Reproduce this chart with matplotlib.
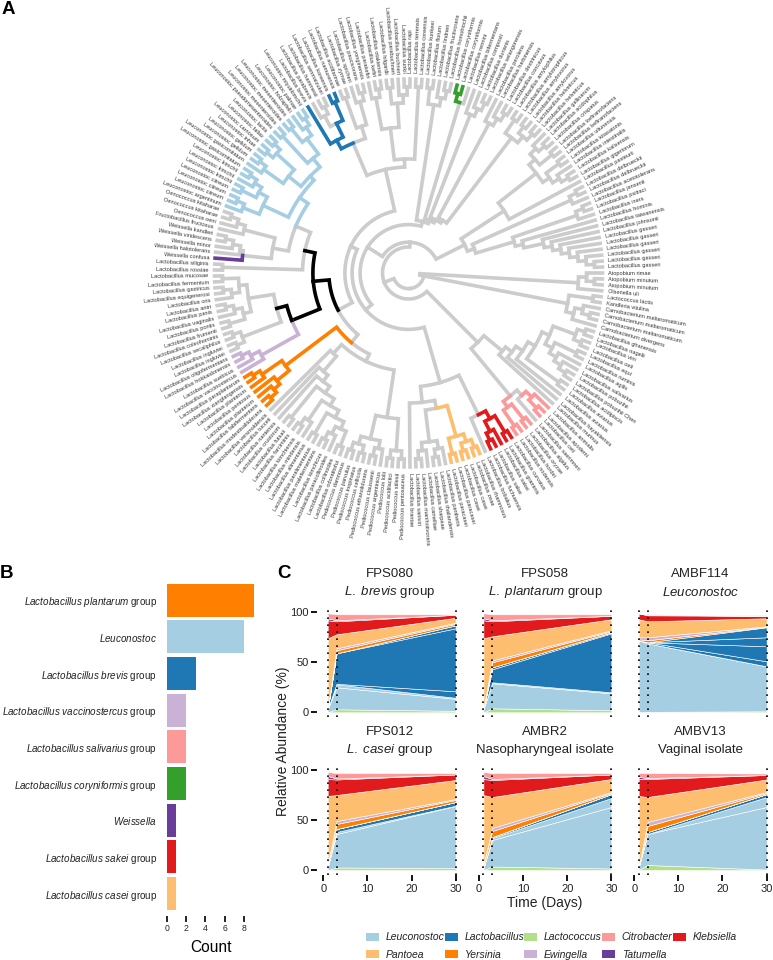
"""Lactobacillaceae cladogram with genome counts and community time courses."""
import re

import numpy as np
import matplotlib

matplotlib.use("Agg")
import matplotlib.pyplot as plt
from matplotlib.patches import Patch

plt.rcParams["font.family"] = ["Liberation Sans", "DejaVu Sans"]
plt.rcParams["mathtext.fontset"] = "custom"
plt.rcParams["mathtext.rm"] = "Liberation Sans"
plt.rcParams["mathtext.it"] = "Liberation Sans:italic"

W, H = 773, 960

PALETTE = {
    "grey": "#CCCCCC", "black": "#000000", "lblue": "#A6CEE3", "blue": "#1F78B4",
    "lgreen": "#B2DF8A", "green": "#33A02C", "pink": "#FB9A99", "red": "#E31A1C",
    "lorange": "#FDBF6F", "orange": "#FF7F00", "lilac": "#CAB2D6", "purple": "#6A3D9A",
}

# ---- panel A: tips clockwise from 3 o'clock ("L." = Lactobacillus)
TIP_LABELS = [
    "Atopobium rimae", "Atopobium minutum", "Atopobium minutum", "Olsenella uli",
    "Lactococcus lactis", "Kandleria vitulina", "Carnobacterium maltaromaticum",
    "Carnobacterium maltaromaticum", "Carnobacterium maltaromaticum", "Carnobacterium divergens",
    "L. ghanensis", "L. nagelii", "L. vini", "L. oeti", "L. equi", "L. ruminis", "L. agilis",
    "L. salivarius", "L. pobuzihii", "L. pobuzihii Chen", "L. acidipiscis", "L. aviarius",
    "L. aviarius", "L. hayakitensis", "L. murinus",
    "L. animalis", "L. apodemi", "L. ceti", "L. saerimneri", "L. algidus", "L. oryzae",
    "L. hordei", "L. nodensis",
    "L. curvatus", "L. graminis", "L. sakei", "L. sakei", "L. fuchuensis", "L. bobalius",
    "L. rhamnosus", "L. zeae", "L. casei", "L. casei", "L. paracasei", "L. paracasei",
    "L. pantheris", "L. thailandensis", "L. sharpeae", "L. camelliae", "L. manihotivorans",
    "L. saniviri", "L. brantae",
    "Pediococcus pentosaceus", "Pediococcus stilesii", "Pediococcus acidilactici", "Pediococcus lolii",
    "Pediococcus argentinicus", "Pediococcus claussenii", "Pediococcus ethanolidurans",
    "Pediococcus cellicola", "Pediococcus inopinatus", "Pediococcus parvulus", "Pediococcus damnosus",
    "L. odoratitofui", "L. collinoides", "L. paracollinoides", "L. kimchicus", "L. malefermentans",
    "L. paralimentarius", "L. alimentarius", "L. mindensis", "L. kimchiensis", "L. farciminis",
    "L. futsaii", "L. crustorum", "L. nantensis", "L. tucceti", "L. versmoldensis",
    "L. modestisalitolerans", "L. fabifermentans", "L. plantarum", "L. pentosus", "L. plantarum",
    "L. xiangfangensis", "L. paraplantarum",
    "L. vaccinostercus", "L. suebicus", "L. hokkaidonensis", "L. oligofermentans",
    "L. ingluviei", "L. ingluviei", "L. secaliphilus", "L. coleohominis", "L. frumenti", "L. pontis",
    "L. vaginalis", "L. panis", "L. antri", "L. oris", "L. equigenerosi", "L. gastricus",
    "L. fermentum", "L. mucosae",
    "L. rossiae", "L. siliginis",
    "Weissella confusa", "Weissella halotolerans", "Weissella minor", "Weissella viridescens",
    "Weissella kandleri", "Fructobacillus fructosus", "Oenococcus oeni", "Oenococcus kitaharae",
    "Oenococcus kitaharae",
    "Leuconostoc argentinum", "Leuconostoc citreum", "Leuconostoc citreum", "Leuconostoc citreum",
    "Leuconostoc kimchii", "Leuconostoc kimchii", "Leuconostoc kimchii", "Leuconostoc gasicomitatum",
    "Leuconostoc gasicomitatum", "Leuconostoc gelidum", "Leuconostoc gelidum", "Leuconostoc inhae",
    "Leuconostoc carnosum", "Leuconostoc fallax", "Leuconostoc lactis", "Leuconostoc pseudomesenteroides",
    "Leuconostoc mesenteroides", "Leuconostoc mesenteroides", "Leuconostoc mesenteroides",
    "Leuconostoc holzapfelii", "Leuconostoc palmae", "Leuconostoc miyukkimchii",
    "L. brevis", "L. parabrevis", "L. hammesii", "L. senmaizukei", "L. koreensis", "L. namurensis",
    "L. acidifarinae", "L. zymae", "L. spicheri", "L. paucivorans", "L. yonginensis",
    "L. parakefiri", "L. kefiri", "L. otakiensis", "L. hilgardii", "L. parabuchneri", "L. buchneri",
    "L. sunkii", "L. rapi", "L. terrensis", "L. coreensis",
    "L. kunkeei", "L. florum", "L. lindneri", "L. fructivorans", "L. homohiochii",
    "L. coryniformis", "L. coryniformis", "L. rennini",
    "L. bifermentans", "L. composti", "L. durianis", "L. selangorensis",
    "L. perolens", "L. harbinensis", "L. dextrinicus", "L. concavus",
    "L. amylophilus", "L. amylotrophicus", "L. amylovorus", "L. amylovorus", "L. helveticus", "L. helveticus",
    "L. gallinarum", "L. acidophilus", "L. crispatus", "L. kefiranofaciens", "L. kefiranofaciens",
    "L. ultunensis", "L. kitasatonis", "L. intestinalis", "L. kalixensis", "L. gigeriorum", "L. pasteurii",
    "L. delbrueckii", "L. delbrueckii", "L. acetotolerans", "L. jensenii", "L. psittaci", "L. iners",
    "L. hominis", "L. taiwanensis", "L. johnsonii", "L. gasseri", "L. gasseri", "L. gasseri",
    "L. gasseri", "L. gasseri", "L. gasseri",
]

# tree topology: * = tip, @h = node level above the tips, #c = clade colour, !c = own branch only
ATOPOBIUM = "((*,(*,*)),*)"
CARNO = "((*,*),((*,(*,*)),*))"
SAL_INNER = "(((*,*),(*,*)),((*,*),(*,(*,(*,*)))))"
SAL_RIGHT = f"((((({SAL_INNER}),(*,*))@6,*),*),*)@9"
SAL_LEFT = "(((*,(*,*))@2.4#pink,*),((*,*),(*,*))@3.4#pink)@4.3"
SALIVARIUS = f"({SAL_RIGHT},{SAL_LEFT})@12"
SAKEI = "(((*,*),(*,(*,*)))@3.4#red,*)@4.5"
CASEI = "(((*,*),(*,*)),(*,*))@3#lorange"
PANTHERIS = "((*,(*,*)),(*,(*,*)))"
CASEI_SAKEI = f"({SAKEI},(({CASEI},{PANTHERIS})@7,*)@8)@10"
PEDIO = "(((*,*),(*,*)),((*,(*,*)),((*,*),(*,*))))@6"
LADDER = "((((((((*,*),(*,(*,*))),(*,*)),(*,(*,*))),(*,*)),*),*),*)@10.5"
PLANTARUM = "((((*,*),*),*),(*,(*,*)))@5#orange"
VACCINO = "(*,(*,(*,*)))@3.2#lilac"
REUTERI = "(((*,*),(*,*)),(((*,*),(*,(*,*))),((*,(*,*)),(*,*))))@7.2!black"
ROSSIAE = "(*,*)"
WEISSELLA = "(*#purple,(*,(*,(*,*))))@3.4"
OENO = "(*,(*,(*,*)))"
LEUCO_L = "((*,(*,*)),((*,*),(*,(*,*)))@3)@4.2"
LEUCO_R = "(((*,(*,*)),((*,*),(*,*)))@5,((*,*),((*,*),(*,(*,*)))@3.2)@5.6)@7"
LEUCO = f"({LEUCO_L},{LEUCO_R})@7.7#lblue"
WEI_LEU = f"(({WEISSELLA},{OENO})@7,{LEUCO})@9"
BLACK_CLADE = f"(({VACCINO},{REUTERI})@8.5!black,({ROSSIAE},{WEI_LEU})@11!black)@12.3!black"
LOWER = f"((({PEDIO},{LADDER})@12,{PLANTARUM})@13,{BLACK_CLADE})@14.3"
BREV_L = "(*,((*,(*,*))#grey,(*,*))@3.5)@5.4#blue"
BREV_R = "((*,*),(*,(*,*)))@5"
BUCH = "(((*,(*,*)),((*,*),(*,(*,*))))@6,(*,*))@10"
UPPER = f"(({BREV_L},{BREV_R})@6.6,{BUCH})@11"
FAN0 = "((*,*),(*,(*,*)))"
FAN1 = "((*,*)#green,*)"
FAN2 = "(*,(*,(*,*)))"
FAN3 = "(*,(*,(*,*)))"
FAN4 = "((*,*),((*,*),(*,*)))"
FAN = f"({FAN0},({FAN1},({FAN2},({FAN3},{FAN4})@16.4)@16.8)@17.2)@17.6"
ACID = "((((*,(*,*)),(*,*)),((*,*),(*,(*,*)))),*)@10"
GASSERI = "(*,(*,(*,(*,(*,(*,(*,(*,*))))))))@9.5"
DELB = f"(((*,*),*),(((*,*),*),{GASSERI})@10.5)@15.5"
TREE = (
    f"(({ATOPOBIUM},{CARNO})@22.8,"
    f"({SALIVARIUS},((({CASEI_SAKEI},({LOWER},{UPPER})@16.3)@17.2,{FAN})@18.2,"
    f"({ACID},{DELB})@16.4)@20.4)@21)@22.3"
)

# ---- panel B
GROUP_SPECIES = ["Lactobacillus plantarum", "Leuconostoc", "Lactobacillus brevis",
                 "Lactobacillus vaccinostercus", "Lactobacillus salivarius",
                 "Lactobacillus coryniformis", "Weissella", "Lactobacillus sakei", "Lactobacillus casei"]
GROUP_SUFFIX = [" group", "", " group", " group", " group", " group", "", " group", " group"]
GROUP_COUNTS = [9, 8, 3, 2, 2, 2, 1, 1, 1]
GROUP_COLOURS = ["orange", "lblue", "blue", "lilac", "pink", "green", "purple", "red", "lorange"]

# ---- panel C: band thickness (%) at each sampled day, bottom to top
DAYS = [1, 3, 30]
BAND_COLOURS = ["lgreen", "lblue", "lblue", "blue", "blue", "blue", "blue",
                "orange", "lilac", "lorange", "red", "purple", "pink"]
FPS080 = [[0, 3, 1.5], [3, 22, 12], [0, 3, 1], [0, 0.5, 6.5], [0, 30.5, 63], [0, 0, 3], [0, 0, 0],
          [0, 3, 1.5], [0, 2, 1], [71, 14, 5], [18, 13, 3], [2, 1, 0], [5, 6, 0.5]]
FPS058 = [[0, 4, 2], [3, 25, 17], [0, 1, 1], [0, 13, 59], [0, 2, 1], [0, 0, 0], [0, 0, 0],
          [0, 5, 1], [0, 2, 1], [71, 24, 11], [18, 15, 3.5], [2, 1, 0], [5, 6, 1.5]]
AMBF114 = [[0, 0.5, 1], [72, 68.5, 45], [0, 0, 0], [0, 1, 5], [0, 0, 15], [0, 0, 9], [0, 0, 10],
           [1, 2, 0.4], [2, 3, 0.6], [18, 16, 8], [6, 6, 2.5], [0, 0.5, 0], [0, 0.5, 0.5]]
FPS012 = [[0, 2.5, 2], [3, 33.5, 62], [0, 2, 0.3], [0, 3, 3.7], [0, 0, 0], [0, 0, 0], [0, 0, 0],
          [2, 5, 2], [0, 3, 1], [69, 26, 19], [17, 15.5, 5.5], [3, 1, 0], [4, 5.5, 1.5]]
AMBR2 = [[0, 3.5, 1.5], [2, 26.5, 61.5], [0, 2, 9], [0, 1, 4], [0, 0, 0], [0, 0, 0], [0, 0, 0],
         [3, 6, 1], [0, 3, 1], [70, 31, 13], [16, 17, 4.5], [3, 1, 0], [4, 6, 1.5]]
AMBV13 = [[0, 5, 0.5], [3, 31, 62.5], [0, 0, 10], [0, 2, 3], [0, 0, 0], [0, 0, 0], [0, 0, 0],
          [0, 6, 1], [0, 4, 1], [71, 25, 12.5], [17, 18, 4.5], [2, 1, 0], [4, 5, 1.5]]
PANELS = [FPS080, FPS058, AMBF114, FPS012, AMBR2, AMBV13]
PANEL_NAMES = ["FPS080", "FPS058", "AMBF114", "FPS012", "AMBR2", "AMBV13"]
PANEL_SUBTITLES = [r"$\mathit{L.\ brevis}$ group", r"$\mathit{L.\ plantarum}$ group",
                   r"$\mathit{Leuconostoc}$", r"$\mathit{L.\ casei}$ group",
                   "Nasopharyngeal isolate", "Vaginal isolate"]
LEGEND_GENERA = ["Leuconostoc", "Pantoea", "Lactobacillus", "Yersinia", "Lactococcus",
                 "Ewingella", "Citrobacter", "Tatumella", "Klebsiella"]
LEGEND_COLOURS = ["lblue", "lorange", "blue", "orange", "lgreen", "lilac", "pink", "purple", "red"]


def parse_tree(text):
    """Read the compact tree string into nested dicts, numbering tips in order."""
    pos = 0
    tips = 0

    def node():
        nonlocal pos, tips
        item = {"children": [], "level": None, "colour": None, "own": None}
        if text[pos] == "*":
            pos += 1
            item["angle"] = tips
            tips += 1
            item["level"] = 0.0
        else:
            pos += 1
            while True:
                item["children"].append(node())
                pos += 1
                if text[pos - 1] == ")":
                    break
            item["angle"] = (item["children"][0]["angle"] + item["children"][-1]["angle"]) / 2
        while pos < len(text) and text[pos] in "@#!":
            match = re.match(r"[\w.]+", text[pos + 1:])
            value = match.group(0)
            if text[pos] == "@":
                item["level"] = float(value)
            elif text[pos] == "#":
                item["colour"] = value
            else:
                item["own"] = value
            pos += 1 + len(value)
        if item["level"] is None:
            item["level"] = 1 + max(c["level"] for c in item["children"])
        return item

    root = node()
    return root, tips


def draw_edges(ax, item, colour, step_deg):
    """One branch per child: arc at the parent's radius, then radial out to the child."""
    r_parent = TIP_R - LEVEL_STEP * item["level"]
    th_parent = np.deg2rad(item["angle"] * step_deg)
    for child in item["children"]:
        inherited = child["colour"] or colour
        own = child["own"] or inherited
        r_child = TIP_R - LEVEL_STEP * child["level"]
        th_child = np.deg2rad(child["angle"] * step_deg)
        thetas = np.linspace(th_parent, th_child, 24)
        ax.plot(np.r_[thetas, th_child], np.r_[np.full(24, r_parent), r_child],
                color=PALETTE[own], lw=2.6, solid_capstyle="projecting", solid_joinstyle="miter",
                zorder=3 if own != "grey" else 2)
        draw_edges(ax, child, inherited, step_deg)


def axes_px(fig, x0, y0, x1, y1, **kw):
    return fig.add_axes([x0 / W, 1 - y1 / H, (x1 - x0) / W, (y1 - y0) / H], **kw)


TIP_R = 194.0
LEVEL_STEP = 8.0
CENTRE = (408.5, 273.0)
R_MAX = 270

fig = plt.figure(figsize=(W / 100, H / 100), dpi=100, facecolor="white")

# panel A
ax = axes_px(fig, CENTRE[0] - R_MAX, CENTRE[1] - R_MAX, CENTRE[0] + R_MAX, CENTRE[1] + R_MAX,
             projection="polar")
ax.set_theta_zero_location("E")
ax.set_theta_direction(-1)
ax.set_rlim(0, R_MAX)
ax.set_axis_off()
root, n_tips = parse_tree(TREE)
if n_tips != len(TIP_LABELS):
    raise ValueError(f"{n_tips} tips, {len(TIP_LABELS)} labels")
step = 360.0 / n_tips
draw_edges(ax, root, "grey", step)
for i, name in enumerate(TIP_LABELS):
    deg = i * step
    left_side = 90 < deg < 270
    ax.text(np.deg2rad(deg), 200, name.replace("L. ", "Lactobacillus "),
            rotation=(180 - deg) if left_side else -deg, rotation_mode="anchor",
            ha="right" if left_side else "left", va="center", fontsize=4.1, color="#333333")

# panel B
ax = axes_px(fig, 166.7, 578.3, 256, 915.5)
y = np.arange(len(GROUP_COUNTS))
ax.barh(y, GROUP_COUNTS, height=0.9, color=[PALETTE[c] for c in GROUP_COLOURS])
ax.set_ylim(len(y) - 0.4, -0.6)
ax.set_xlim(0, 89.3 / 9.7)
ax.set_xticks([0, 2, 4, 6, 8])
ax.set_yticks(y)
ax.set_yticklabels(["$\\mathit{" + s.replace(" ", "\\ ") + "}$" + g
                    for s, g in zip(GROUP_SPECIES, GROUP_SUFFIX)], fontsize=7.15, color="#222222")
ax.tick_params(axis="y", length=0, pad=7)
ax.tick_params(axis="x", length=4, width=1.2, labelsize=6.2, pad=2, labelcolor="#222222")
ax.set_xlabel("Count", fontsize=11.2, labelpad=5)
for side in ax.spines.values():
    side.set_visible(False)

# panel C
COL_X0 = [323.3, 479.0, 634.3]
ROW_Y0 = [712.3, 870.0]
PX_DAY = 4.41
for k, bands in enumerate(PANELS):
    row, col = divmod(k, 3)
    x0, y0 = COL_X0[col], ROW_Y0[row]
    ax = axes_px(fig, x0 - 6.3, y0 - 104.3, x0 + 30 * PX_DAY + 6.3, y0 + 4.7)
    ax.stackplot(DAYS, np.array(bands, dtype=float), colors=[PALETTE[c] for c in BAND_COLOURS],
                 edgecolor="white", linewidth=0.4)
    for day in DAYS:
        ax.axvline(day, color="black", lw=1.2, ls=(0, (1, 3.2)), zorder=5)
    ax.set_xlim(-6.3 / PX_DAY, 30 + 6.3 / PX_DAY)
    ax.set_ylim(-4.7, 104.3)
    ax.set_xticks([0, 10, 20, 30] if row == 1 else [])
    ax.set_yticks([0, 50, 100] if col == 0 else [])
    ax.tick_params(axis="x", length=4.5, width=1.3, labelsize=8, pad=2, labelcolor="#222222")
    ax.tick_params(axis="y", length=4, width=1.3, labelsize=8, pad=2, labelcolor="#222222")
    for side in ax.spines.values():
        side.set_visible(False)
    xc = x0 + 15 * PX_DAY
    fig.text(xc / W, 1 - (y0 - 138) / H, PANEL_NAMES[k], ha="center", va="center",
             fontsize=9.5, color="#222222")
    fig.text(xc / W, 1 - (y0 - 120) / H, PANEL_SUBTITLES[k], ha="center", va="center",
             fontsize=9.5, color="#222222")

fig.text(283 / W, 1 - 741 / H, "Relative Abundance (%)", rotation=90, ha="center", va="center",
         fontsize=10, color="#222222")
fig.text(545 / W, 1 - 903 / H, "Time (Days)", ha="center", va="center", fontsize=10, color="#222222")

handles = [Patch(facecolor=PALETTE[c], edgecolor="none") for c in LEGEND_COLOURS]
fig.legend(handles, LEGEND_GENERA, ncol=5, frameon=False, loc="lower left",
           bbox_to_anchor=(366 / W, 0.5 / H), borderaxespad=0, borderpad=0,
           prop={"style": "italic", "size": 7.5}, handlelength=1.25, handleheight=0.85,
           handletextpad=0.65, labelspacing=0.68, columnspacing=0.0, labelcolor="#222222")

for letter, px, py in [("A", 8, 10), ("B", 7, 574), ("C", 284, 574)]:
    fig.text(px / W, 1 - py / H, letter, fontsize=13.5, fontweight="bold", ha="center", va="center")

fig.savefig("out.png", dpi=100, facecolor="white")
